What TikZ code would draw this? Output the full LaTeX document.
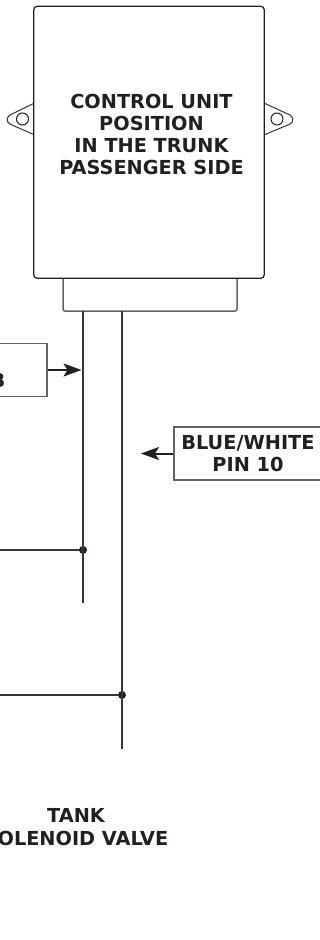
\documentclass[tikz,border=0pt]{standalone}
\usepackage{fontspec}
\setmainfont{DejaVu Sans}
\usepackage{tikz}
\usetikzlibrary{positioning,arrows.meta}
\definecolor{inkc}{HTML}{231F20}
\begin{document}
\begin{tikzpicture}[x=1pt,y=-1pt,
    >={Stealth[inset=4pt,length=18pt,width=13pt]},
    wire/.style={draw=inkc!90, line width=2pt},
    arr/.style={draw=inkc, line width=2pt, ->},
    bb/.style={%
      rectangle, draw=inkc!70, line width=1.5pt, fill=white,
      inner sep=0pt, align=center, text=inkc, font=\fontsize{19.3}{22.3}\selectfont\bfseries
    },
    inv/.style={%
      rectangle, draw=none, inner sep=0pt, align=center,
      text=inkc, font=\fontsize{19.3}{22.3}\selectfont\bfseries
    },
    dot/.style={circle, fill=inkc, draw=none, minimum size=8pt, inner sep=0pt}
]
    \useasboundingbox (0,0) rectangle (320,940);

    % connector under the unit
    \draw[draw=inkc!70, line width=1.5pt, rounded corners=2pt] (63,270) -- (63,311) -- (237,311) -- (237,270);

    % ears
    \draw[wire, line width=1pt] (33.5,103.5) -- (10,115) arc[start angle=115, end angle=245, radius=5pt] -- (33.5,134.5);
    \draw[wire, line width=1pt] (265,103.5) -- (290,115) arc[start angle=65, end angle=-65, radius=5pt] -- (265,134.5);
    \node[circle, draw=inkc, line width=1pt, minimum size=12pt, inner sep=0pt] (holeL) at (22.5,119) {};
    \node[circle, draw=inkc, line width=1pt, minimum size=12pt, inner sep=0pt] (holeR) at (277,119) {};

    \node[bb, draw=inkc, line width=1.2pt, rounded corners=3.5pt, minimum width=230.5pt, minimum height=272pt] (unit) at (149,142.3) {};
    \node[inv] (unittxt) at (151.5,134.5) {CONTROL UNIT\\POSITION\\IN THE TRUNK\\PASSENGER SIDE};

    \coordinate (topA) at (83,311);
    \coordinate (topB) at (122,311);
    \coordinate (endA) at (83,603);
    \coordinate (endB) at (122,749);
    \node[dot] (dotA) at (83,550) {};
    \node[dot] (dotB) at (122,695) {};
    \coordinate (leftA) at (0,550);
    \coordinate (leftB) at (0,695);

    \draw[wire] (topA) -- (endA);
    \draw[wire] (topB) -- (endB);
    \draw[wire] (leftA) -- (dotA);
    \draw[wire] (leftB) -- (dotB);

    \node[bb, minimum width=60pt, minimum height=53pt] (relay) at (17,370) {};
    \node[inv, anchor=base east] (relaytxt) at (5.5,387) {B};
    \node[bb, minimum width=148pt, minimum height=53pt] (pin) at (248,453.5) {BLUE/WHITE\\PIN 10};

    \draw[arr] (relay.east) -- (81.5,370);
    \draw[arr] (pin.west) -- (141,453.5);

    \node[inv] (valve) at (76,827) {TANK\\SOLENOID VALVE};

\end{tikzpicture}
\end{document}
